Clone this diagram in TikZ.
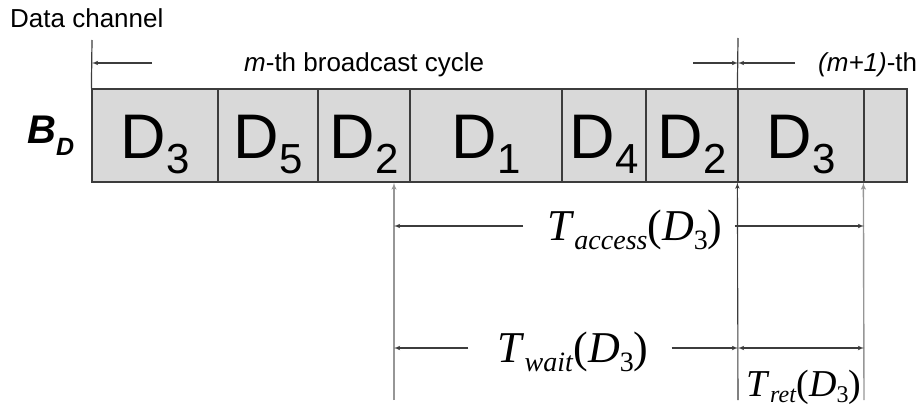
\documentclass[tikz,border=0pt]{standalone}
\usepackage{fontspec}
\setmainfont{Liberation Sans}
\newfontfamily\tfont{Liberation Serif}
\usetikzlibrary{arrows}
\definecolor{cellgray}{RGB}{217,217,217}
\definecolor{linegray}{RGB}{60,60,60}
\definecolor{tickgray}{RGB}{150,150,150}
\newcommand{\lowtxt}[3]{\raisebox{-#1}{\fontsize{#2}{#2}\selectfont #3}}
\newcommand{\dcell}[1]{D\lowtxt{15pt}{42pt}{#1}}

\begin{document}
\begin{tikzpicture}[x=1pt,y=-1pt]

\tikzset{cell/.style = {shape=rectangle,draw=linegray,fill=cellgray,line width=1.2pt,minimum height=93pt,inner sep=0pt,text height=47pt,text depth=0pt,font=\fontsize{63pt}{63pt}\selectfont}}
\tikzset{note/.style = {inner sep=0pt,text height=18pt,text depth=0pt,font=\fontsize{26pt}{26pt}\selectfont}}
\tikzset{lbl/.style = {inner sep=0pt,text height=29pt,text depth=0pt,font=\tfont\fontsize{44pt}{44pt}\selectfont}}
\tikzset{edge/.style = {->,> = latex',line width=1.1pt,draw=linegray}}
\tikzset{tick/.style = {->,> = latex',line width=1.4pt,draw=tickgray}}
\useasboundingbox (0,0) rectangle (921,409);

% cells
\node[cell, minimum width=126pt] (c1) at (155,135.5) {\dcell{3}};
\node[cell, minimum width=100pt] (c2) at (268,135.5) {\dcell{5}};
\node[cell, minimum width=92pt] (c3) at (364,135.5) {\dcell{2}};
\node[cell, minimum width=152pt] (c4) at (486,135.5) {\dcell{1}};
\node[cell, minimum width=84pt] (c5) at (604,135.5) {\dcell{4}};
\node[cell, minimum width=92pt] (c6) at (692,135.5) {\dcell{2}};
\node[cell, minimum width=126pt] (c7) at (801,135.5) {\dcell{3}};
\node[cell, minimum width=43pt] (c8) at (885.5,135.5) {};

% labels
\node[anchor=base west, inner sep=0pt, font=\fontsize{26pt}{26pt}\selectfont] (chan) at (10,28) {Data channel};
\node[anchor=base west, inner sep=0pt, font=\fontsize{40pt}{40pt}\selectfont\bfseries\itshape] (bd) at (27,143) {B\lowtxt{13pt}{25pt}{D}};
\node[note, anchor=west] (cyc) at (244,63) {\textit{m}-th broadcast cycle};
\node[note, anchor=west] (nxt) at (818,63) {\textit{(m+1)}-th};
\node[lbl] (tacc) at (635,226) {\textit{T}\lowtxt{9pt}{28pt}{\textit{access}}(\textit{D}\lowtxt{9pt}{28pt}{3})};
\node[lbl] (twait) at (573,348) {\textit{T}\lowtxt{9pt}{28pt}{\textit{wait}}(\textit{D}\lowtxt{9pt}{28pt}{3})};
\node[lbl, text height=25pt, font=\tfont\fontsize{38pt}{38pt}\selectfont] (tret) at (804,384) {\textit{T}\lowtxt{6pt}{24pt}{\textit{ret}}(\textit{D}\lowtxt{6pt}{24pt}{3})};

% cycle marks
\coordinate (top0) at (92,40);
\coordinate (top1) at (738,38);
\coordinate (bot0) at (394,400);
\coordinate (bot1) at (738,400);
\coordinate (bot2) at (864,400);
\draw[linegray, line width=1.2pt] (top0) -- (c1.north west);
\draw[linegray, line width=1.2pt] (top1) -- (c7.north west);
\draw[edge] (bot1) -- (c7.south west);
\draw[tick] (bot0) -- (bot0 |- c3.south);
\draw[tick] (bot2) -- (c8.south west);

% spans
\draw[edge] ([xshift=-92pt]cyc.west) -- (cyc.west -| top0);
\draw[edge] ([xshift=-45pt]nxt.west -| top1) -- (nxt.west -| top1);
\draw[edge] ([xshift=-23pt]nxt.west) -- (nxt.west -| top1);
\draw[edge] ([xshift=-24pt]tacc.west) -- (tacc.west -| bot0);
\draw[edge] ([xshift=12pt]tacc.east) -- (tacc.east -| bot2);
\draw[edge] ([xshift=-29pt]twait.west) -- (twait.west -| bot0);
\draw[edge] ([xshift=23pt]twait.east) -- (twait.east -| bot1);
\draw[edge, <->] (twait.east -| bot1) -- (twait.east -| bot2);

\end{tikzpicture}
\end{document}
